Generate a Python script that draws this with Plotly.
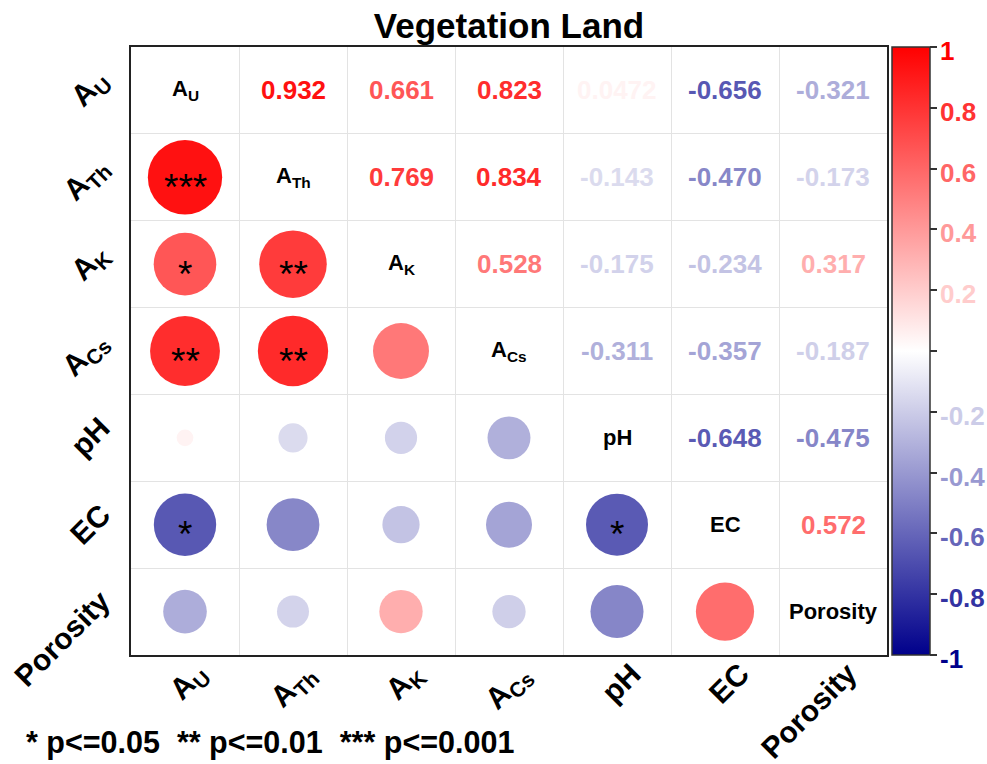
import numpy as np
import plotly.graph_objects as go
from plotly.colors import sample_colorscale

# Variables (row/column order of the matrix)
variables = ["A<sub>U</sub>", "A<sub>Th</sub>", "A<sub>K</sub>", "A<sub>Cs</sub>", "pH", "EC", "Porosity"]

# Pearson correlations, upper triangle, row by row
r_AU = [0.932, 0.661, 0.823, 0.0472, -0.656, -0.321]
r_ATh = [0.769, 0.834, -0.143, -0.470, -0.173]
r_AK = [0.528, -0.175, -0.234, 0.317]
r_ACs = [-0.311, -0.357, -0.187]
r_pH = [-0.648, -0.475]
r_EC = [0.572]

# Significance stars, same layout
s_AU = ["***", "*", "**", "", "*", ""]
s_ATh = ["**", "**", "", "", ""]
s_AK = ["", "", "", ""]
s_ACs = ["", "", ""]
s_pH = ["*", ""]
s_EC = [""]

cbar_ticks = [1, 0.8, 0.6, 0.4, 0.2, 0, -0.2, -0.4, -0.6, -0.8, -1]
cbar_labels = ["1", "0.8", "0.6", "0.4", "0.2", "", "-0.2", "-0.4", "-0.6", "-0.8", "-1"]

title = "Vegetation Land"
sig_note = "* p<=0.05  ** p<=0.01  *** p<=0.001"

n = len(variables)
upper_rows = [r_AU, r_ATh, r_AK, r_ACs, r_pH, r_EC]
star_rows = [s_AU, s_ATh, s_AK, s_ACs, s_pH, s_EC]

R = np.eye(n)
S = [["" for _ in range(n)] for _ in range(n)]
for i, (vals, stars) in enumerate(zip(upper_rows, star_rows)):
    for k, (v, s) in enumerate(zip(vals, stars)):
        j = i + 1 + k
        R[i, j] = R[j, i] = v
        S[i][j] = S[j][i] = s

cscale = [[0.0, "#00008B"], [0.5, "#FFFFFF"], [1.0, "#FF0000"]]


def col_of(v):
    return sample_colorscale(cscale, [(v + 1) / 2])[0]


# Figure geometry
W, H = 987, 764
ML, MR, MT, MB = 131, 100, 47, 109
PW, PH = W - ML - MR, H - MT - MB


def px_x(p):
    return (p - ML) / PW


def px_y(p):
    return (H - MB - p) / PH


BOLD = "Liberation Sans, Arial, sans-serif"
NARROW = "Liberation Sans Narrow, Arial Narrow, Liberation Sans, sans-serif"

# Lower triangle circles
cx, cy, cv = [], [], []
for i in range(n):
    for j in range(i):
        cx.append(j)
        cy.append(i)
        cv.append(R[i, j])
cv = np.array(cv)

fig = go.Figure()
fig.add_trace(go.Scatter(
    x=cx, y=cy, mode="markers",
    marker=dict(
        size=77 * np.sqrt(np.abs(cv)),
        color=cv, colorscale=cscale, cmin=-1, cmax=1,
        line=dict(width=0), opacity=1,
        showscale=True,
        colorbar=dict(
            x=px_x(892), xanchor="left", y=0.5, yanchor="middle",
            len=1, lenmode="fraction", thickness=38, thicknessmode="pixels",
            xpad=0, ypad=0,
            outlinecolor="#333333", outlinewidth=1.5,
            tickmode="array", tickvals=cbar_ticks, ticks="outside",
            ticklen=7, tickwidth=1.5, tickcolor="#333333",
            showticklabels=False,
        ),
    ),
    hoverinfo="skip", showlegend=False,
))

annotations = []

# Stars on the circles
for i in range(n):
    for j in range(i):
        if S[i][j]:
            annotations.append(dict(
                x=j, y=i, xref="x", yref="y", text=S[i][j], showarrow=False,
                font=dict(family=BOLD, size=37, color="black"),
                xanchor="center", yanchor="middle", yshift=-10,
            ))

# Upper triangle values
for i in range(n):
    for j in range(i + 1, n):
        v = R[i, j]
        annotations.append(dict(
            x=j, y=i, xref="x", yref="y", text=f"<b>{v:#.3g}</b>", showarrow=False,
            font=dict(family=NARROW, size=26, color=col_of(v)),
            xanchor="center", yanchor="middle",
        ))

# Diagonal names
for i, name in enumerate(variables):
    annotations.append(dict(
        x=i, y=i, xref="x", yref="y", text=f"<b>{name}</b>", showarrow=False,
        font=dict(family=BOLD, size=22, color="black"),
        xanchor="center", yanchor="middle",
    ))

# Rotated axis labels
for i, name in enumerate(variables):
    annotations.append(dict(
        x=px_x(119), y=i, xref="paper", yref="y", text=f"<b>{name}</b>",
        showarrow=False, textangle=-45,
        font=dict(family=BOLD, size=30, color="black"),
        xanchor="right", yanchor="top", yshift=30,
    ))
    annotations.append(dict(
        x=i, y=px_y(654), xref="x", yref="paper", text=f"<b>{name}</b>",
        showarrow=False, textangle=-45,
        font=dict(family=BOLD, size=30, color="black"),
        xanchor="right", yanchor="top", xshift=33,
    ))

# Colour bar tick labels, coloured by value
for v, lab in zip(cbar_ticks, cbar_labels):
    if lab:
        annotations.append(dict(
            x=px_x(938), y=(v + 1) / 2, xref="paper", yref="paper",
            text=f"<b>{lab}</b>", showarrow=False,
            font=dict(family=BOLD, size=26, color=col_of(v)),
            xanchor="left", yanchor="middle", yshift=-4,
        ))

# Significance note
annotations.append(dict(
    x=px_x(24), y=px_y(742), xref="paper", yref="paper",
    text=f"<b>{sig_note}</b>", showarrow=False,
    font=dict(family=NARROW, size=30.5, color="black"),
    xanchor="left", yanchor="middle",
))

grid_vals = [k + 0.5 for k in range(n - 1)]
axis_common = dict(
    tickmode="array", tickvals=grid_vals, showticklabels=False, ticks="",
    showgrid=True, gridcolor="#E3E3E3", gridwidth=1, zeroline=False,
    showline=True, mirror=True, linecolor="#222222", linewidth=2,
)

fig.update_layout(
    width=W, height=H,
    margin=dict(l=ML, r=MR, t=MT, b=MB, pad=0),
    paper_bgcolor="white", plot_bgcolor="white",
    title=dict(text=f"<b>{title}</b>", x=0.5, xref="paper", xanchor="center",
               y=1 - 26 / H, yref="container", yanchor="middle",
               font=dict(family=BOLD, size=35, color="black")),
    xaxis=dict(range=[-0.5, n - 0.5], **axis_common),
    yaxis=dict(range=[n - 0.5, -0.5], **axis_common),
    annotations=annotations,
)

fig.write_html("out.html")
